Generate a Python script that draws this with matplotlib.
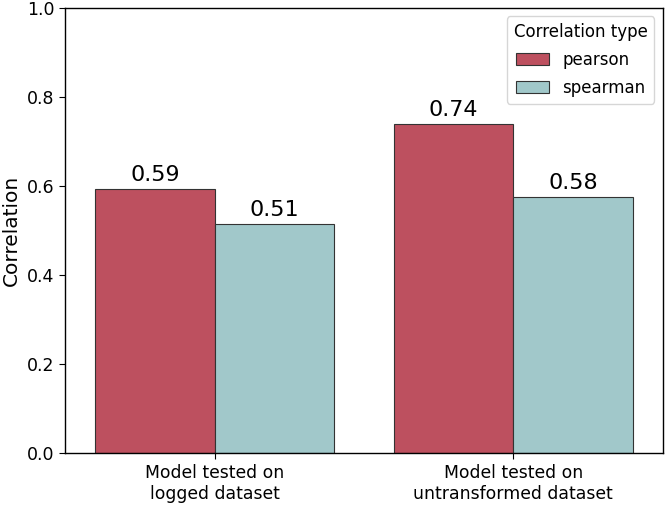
import matplotlib
matplotlib.use("Agg")
import matplotlib.pyplot as plt
import numpy as np

# values
groups = ["Model tested on\nlogged dataset", "Model tested on\nuntransformed dataset"]
corr_types = ["pearson", "spearman"]
pearson = [0.593, 0.739]
spearman = [0.514, 0.576]
colors = {"pearson": "#BD505F", "spearman": "#A1C8CA"}

fig = plt.figure(figsize=(6.66, 5.09), dpi=100)
ax = fig.add_axes([0.098, 0.110, 0.897, 0.874])

x = np.arange(len(groups))
w = 0.4
for i, (name, vals) in enumerate(zip(corr_types, [pearson, spearman])):
    bars = ax.bar(x - w / 2 + i * w, vals, width=w, color=colors[name],
                  edgecolor="#333333", linewidth=0.8, label=name)
    ax.bar_label(bars, labels=["%.2f" % v for v in vals], fontsize=16, padding=3)

ax.set_xlim(-0.5, 1.5)
ax.set_ylim(0, 1.0)
ax.set_xticks(x)
ax.set_xticklabels(groups, fontsize=12.4)
ax.tick_params(axis="y", labelsize=12.5)
ax.tick_params(length=4.5)
for s in ax.spines.values():
    s.set_linewidth(1.0)
ax.set_ylabel("Correlation", fontsize=14.5)
ax.legend(title="Correlation type", loc="upper right", fontsize=12, title_fontsize=12,
          labelspacing=0.6)

fig.savefig("out.png", dpi=100)
